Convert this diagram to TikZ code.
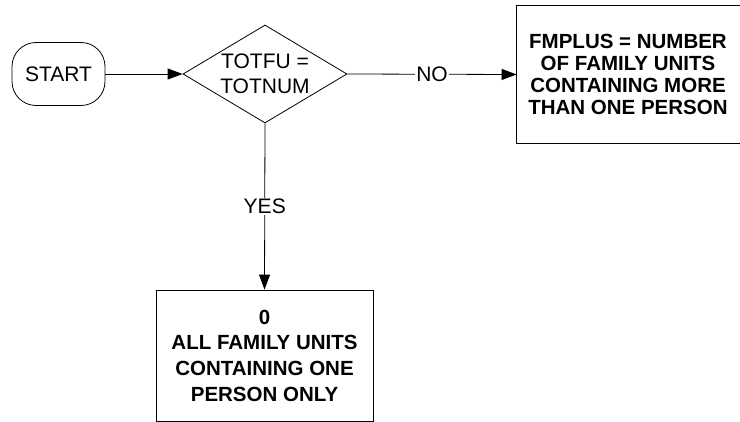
\documentclass[tikz,border=0pt]{standalone}
\usepackage{fontspec}
\setmainfont{Liberation Sans}
\usetikzlibrary{shapes.geometric,arrows.meta}

\begin{document}
\begin{tikzpicture}[x=1pt, y=-1pt,
    line width=0.8pt,
    >={Triangle[length=15pt,width=11pt]},
    terminal/.style={draw, rounded corners=24pt, minimum width=93pt, minimum height=63pt,
      font=\fontsize{21}{24}\selectfont},
    decision/.style={draw, diamond, inner sep=0pt, minimum width=164pt, minimum height=98pt},
    result/.style={align=center, inner sep=0pt, font=\bfseries\fontsize{20.5}{22}\selectfont},
    tag/.style={fill=white, inner sep=1pt, font=\fontsize{21}{24}\selectfont}]
    \useasboundingbox (0,0) rectangle (740,422);

    \node[terminal] (start) at (58.5,74) {START};
    \node[decision] (test) at (265,74) {};
    \node[align=center, font=\fontsize{21}{25}\selectfont] (testtext) at (test) {TOTFU =\\TOTNUM};
    \node[result, minimum width=222pt, minimum height=137pt] (fmplus) at (628,74.5)
      {FMPLUS = NUMBER\\OF FAMILY UNITS\\CONTAINING MORE\\THAN ONE PERSON};
    % box runs off the right edge
    \draw ([xshift=12pt]fmplus.north east) -- (fmplus.north west)
      -- (fmplus.south west) -- ([xshift=12pt]fmplus.south east);
    \node[result, draw, minimum width=217pt, minimum height=131pt,
      font=\bfseries\fontsize{20.5}{25.7}\selectfont] (zero) at (264.5,355.5)
      {0\\ALL FAMILY UNITS\\CONTAINING ONE\\PERSON ONLY};

    % connectors
    \draw[->] (start) -- (test.west);
    \draw[->] (test.east) -- node[tag] {NO} (fmplus.west);
    \draw[->] (test.south) -- node[tag] {YES} (zero.north);
\end{tikzpicture}
\end{document}
